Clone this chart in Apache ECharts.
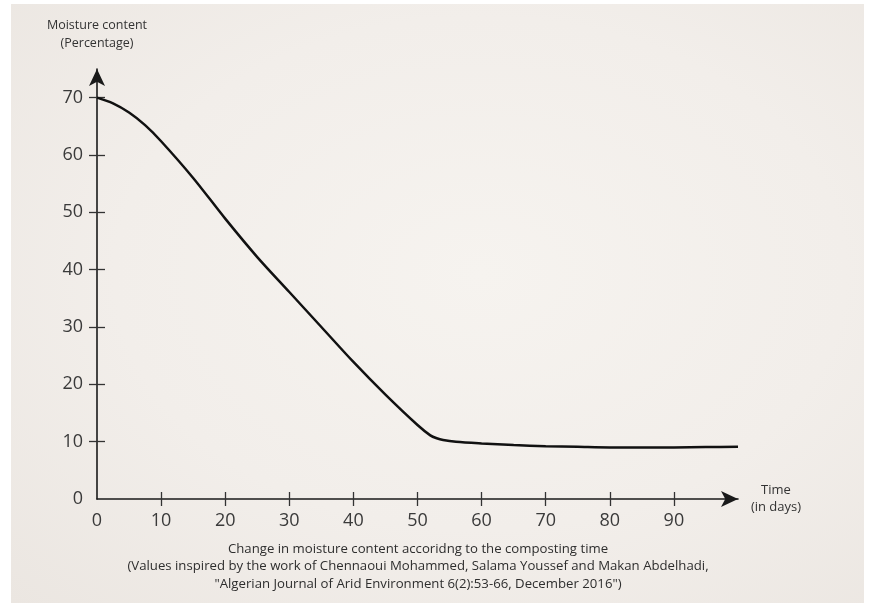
<!DOCTYPE html>
<html>
<head>
<meta charset="utf-8">
<script src="https://cdn.jsdelivr.net/npm/echarts@6/dist/echarts.min.js"></script>
<style>
  html, body { margin: 0; padding: 0; background: #ffffff; }
  #bg { position: absolute; left: 11px; top: 4px; right: 6px; bottom: 2px;
        background: radial-gradient(ellipse at 55% 45%, #f6f3ef 0%, #f2eeea 55%, #ebe6e1 100%); }
  #chart { position: absolute; left: 0; top: 0; width: 870px; height: 605px; }
</style>
</head>
<body>
<div id="bg"></div>
<div id="chart"></div>
<script>
const days = [0, 2.5, 5, 7.5, 10, 15, 20, 25, 30, 35, 40, 45, 50, 52, 53, 54, 56, 60, 65, 70, 75, 80, 85, 90, 95, 100];
const moisture = [70, 69.0, 67.4, 65.2, 62.4, 56.0, 48.9, 42.2, 36.1, 30.0, 23.9, 18.2, 12.9, 11.1, 10.6, 10.3, 10.0, 9.7, 9.4, 9.2, 9.1, 9.0, 9.0, 9.0, 9.05, 9.1];
const xTickLabels = [0, 10, 20, 30, 40, 50, 60, 70, 80, 90];
const yTickLabels = [0, 10, 20, 30, 40, 50, 60, 70];
const xTickMarks = [10, 20, 30, 40, 50, 60, 70, 80, 90];
const yTickMarks = [10, 20, 30, 40, 50, 60, 70];
const yTitle = 'Moisture content\n(Percentage)';
const xTitle = 'Time\n(in days)';
const caption = 'Change in moisture content accoridng to the composting time\n(Values inspired by the work of Chennaoui Mohammed, Salama Youssef and Makan Abdelhadi,\n"Algerian Journal of Arid Environment 6(2):53-66, December 2016")';

const FONT = '"Open Sans", "Noto Sans", sans-serif';
const chart = echarts.init(document.getElementById('chart'), null, { renderer: 'canvas' });

const tickStyle = { color: '#333', width: 1.3 };

chart.setOption({
  backgroundColor: 'transparent',
  animation: false,
  title: {
    text: caption,
    left: 413, top: 535, textAlign: 'center',
    textStyle: { fontFamily: FONT, fontSize: 13.2, fontWeight: 'normal', color: '#2e2e2e', lineHeight: 17.5 }
  },
  grid: { left: 97, right: 132, top: 69, bottom: 106, containLabel: false },
  xAxis: [
    {
      type: 'value', min: 0, max: 100, position: 'bottom',
      axisLine: { show: true, onZero: false, symbol: ['none', 'arrow'], symbolSize: [12, 17], lineStyle: { color: '#1a1a1a', width: 1.6 } },
      axisTick: { show: false },
      axisLabel: { show: true, customValues: xTickLabels, margin: 13, fontFamily: FONT, fontSize: 18, color: '#3a3a3a' },
      splitLine: { show: false },
      name: xTitle, nameLocation: 'end', nameGap: 38,
      nameTextStyle: { fontFamily: FONT, fontSize: 13, color: '#333', align: 'center', verticalAlign: 'middle', lineHeight: 17 }
    },
    {
      type: 'value', min: 0, max: 100, position: 'bottom', offset: -7,
      axisLine: { show: true, onZero: false, lineStyle: { color: 'rgba(0,0,0,0)', width: 0 } },
      axisTick: { show: true, inside: false, length: 14, customValues: xTickMarks, lineStyle: tickStyle },
      axisLabel: { show: false },
      splitLine: { show: false }
    }
  ],
  yAxis: [
    {
      type: 'value', min: 0, max: 75, position: 'left',
      axisLine: { show: true, onZero: false, symbol: ['none', 'arrow'], symbolSize: [12, 17], lineStyle: { color: '#1a1a1a', width: 1.6 } },
      axisTick: { show: false },
      axisLabel: { show: true, customValues: yTickLabels, margin: 14, fontFamily: FONT, fontSize: 18, color: '#3a3a3a' },
      splitLine: { show: false },
      name: yTitle, nameLocation: 'end', nameGap: 17,
      nameTextStyle: { fontFamily: FONT, fontSize: 12.5, color: '#333', align: 'center', verticalAlign: 'bottom', lineHeight: 18 }
    },
    {
      type: 'value', min: 0, max: 75, position: 'left', offset: -8,
      axisLine: { show: true, onZero: false, lineStyle: { color: 'rgba(0,0,0,0)', width: 0 } },
      axisTick: { show: true, inside: false, length: 16, customValues: yTickMarks, lineStyle: tickStyle },
      axisLabel: { show: false },
      splitLine: { show: false }
    }
  ],
  series: [{
    type: 'line',
    xAxisIndex: 0, yAxisIndex: 0,
    data: days.map((d, i) => [d, moisture[i]]),
    smooth: 0.3,
    showSymbol: false,
    lineStyle: { color: '#111', width: 2.5 },
    z: 3
  }]
});
</script>
</body>
</html>
